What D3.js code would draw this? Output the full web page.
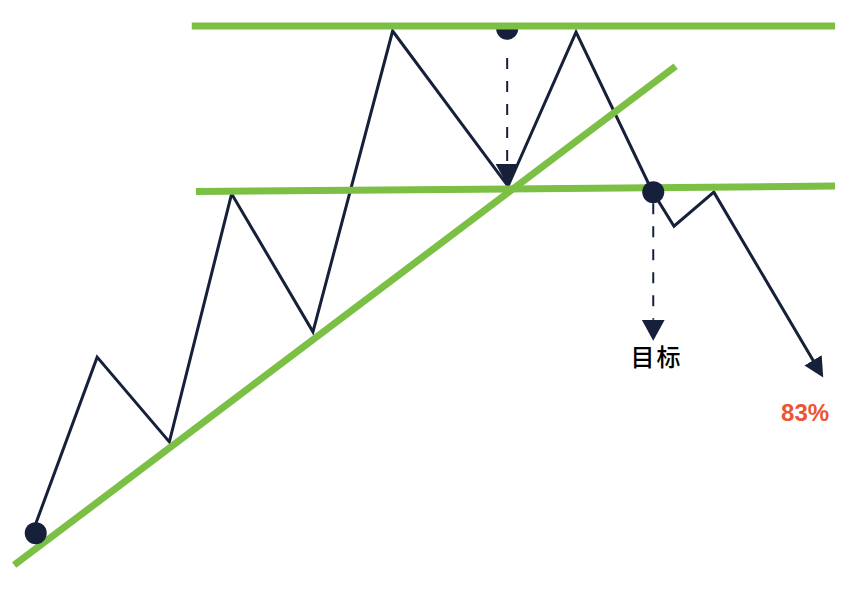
<!DOCTYPE html>
<html>
<head>
<meta charset="utf-8">
<script src="https://cdn.jsdelivr.net/npm/d3@7"></script>
<style>
  html, body { margin: 0; padding: 0; background: #fff; }
</style>
</head>
<body>
<div id="svgcontainer"></div>
<script>
// price path (x = time, y = price)
var priceX = [3.1, 10.5, 19.2, 26.7, 36.5, 46.1, 60.0, 68.2, 77.3, 80.0, 84.8, 97.0];
var priceY = [8.4, 38.7, 23.3, 68.4, 43.3, 98.0, 69.8, 97.8, 69.1, 62.5, 68.7, 37.5];

// green guide lines: [x1, y1, x2, y2]
var resistance = [21.9, 98.9, 99.4, 98.9];
var neckline   = [22.4, 68.8, 99.4, 69.8];
var trendline  = [0.5, 0.9, 80.2, 91.6];

// dashed target arrows: [x, yFrom, yTo]
var targetArrows = [[59.9, 93.1, 73.8], [77.5, 66.7, 45.5]];

// dots
var dotsOver = [[3.1, 6.7], [77.5, 68.7]];
var dotsHalf = [[59.9, 98.4]];

var labels = ["目标", "83%"];
var labelX = [77.9, 95.8];
var labelY = [37.1, 27.1];

var width = 867,
    height = 591;

var navy = "#17203a",
    green = "#7bbf45";

var x = d3.scaleLinear().domain([0, 100]).range([10, 840]);
var y = d3.scaleLinear().domain([0, 100]).range([570, 20]);

var svg = d3.select("#svgcontainer").append("svg")
    .attr("width", width)
    .attr("height", height);

var defs = svg.append("defs");

defs.append("marker")
    .attr("id", "bigHead")
    .attr("markerUnits", "userSpaceOnUse")
    .attr("markerWidth", 22)
    .attr("markerHeight", 22)
    .attr("viewBox", "0 0 22 22")
    .attr("refX", 4)
    .attr("refY", 10)
    .attr("orient", "auto")
  .append("path")
    .attr("d", "M0,0 L20,10 L0,20 Z")
    .attr("fill", navy);

defs.append("marker")
    .attr("id", "dashHead")
    .attr("markerUnits", "userSpaceOnUse")
    .attr("markerWidth", 24)
    .attr("markerHeight", 24)
    .attr("viewBox", "0 0 24 24")
    .attr("refX", 0)
    .attr("refY", 11.5)
    .attr("orient", "auto")
  .append("path")
    .attr("d", "M0,0 L21,11.5 L0,23 Z")
    .attr("fill", navy);

// half dot sits under the resistance line
var halfArc = d3.arc().innerRadius(0).outerRadius(11)
    .startAngle(Math.PI / 2).endAngle(3 * Math.PI / 2);

svg.selectAll(".half")
    .data(dotsHalf)
  .enter().append("path")
    .attr("class", "half")
    .attr("transform", function(d) { return "translate(" + x(d[0]) + "," + y(d[1]) + ")"; })
    .attr("d", halfArc)
    .attr("fill", navy);

// dashed arrows to target
svg.selectAll(".target")
    .data(targetArrows)
  .enter().append("line")
    .attr("class", "target")
    .attr("x1", function(d) { return x(d[0]); })
    .attr("x2", function(d) { return x(d[0]); })
    .attr("y1", function(d) { return y(d[1]); })
    .attr("y2", function(d) { return y(d[2]); })
    .attr("stroke", navy)
    .attr("stroke-width", 2)
    .attr("stroke-dasharray", "11,12")
    .attr("marker-end", "url(#dashHead)");

// price line
var line = d3.line()
    .x(function(d, i) { return x(priceX[i]); })
    .y(function(d) { return y(d); });

svg.append("path")
    .datum(priceY)
    .attr("d", line)
    .attr("fill", "none")
    .attr("stroke", navy)
    .attr("stroke-width", 3)
    .attr("stroke-linejoin", "miter")
    .attr("marker-end", "url(#bigHead)");

// green lines
svg.selectAll(".guide")
    .data([resistance, neckline, trendline])
  .enter().append("line")
    .attr("class", "guide")
    .attr("x1", function(d) { return x(d[0]); })
    .attr("y1", function(d) { return y(d[1]); })
    .attr("x2", function(d) { return x(d[2]); })
    .attr("y2", function(d) { return y(d[3]); })
    .attr("stroke", green)
    .attr("stroke-width", 7);

svg.selectAll(".dot")
    .data(dotsOver)
  .enter().append("circle")
    .attr("class", "dot")
    .attr("cx", function(d) { return x(d[0]); })
    .attr("cy", function(d) { return y(d[1]); })
    .attr("r", 11)
    .attr("fill", navy);

svg.append("text")
    .attr("x", x(labelX[0]))
    .attr("y", y(labelY[0]))
    .attr("text-anchor", "middle")
    .attr("font-family", "'Noto Sans CJK SC', sans-serif")
    .attr("font-size", 24)
    .attr("font-weight", 500)
    .attr("letter-spacing", 2)
    .attr("fill", "#000")
    .text(labels[0]);

svg.append("text")
    .attr("x", x(labelX[1]))
    .attr("y", y(labelY[1]))
    .attr("text-anchor", "middle")
    .attr("font-family", "'Liberation Sans', Arial, sans-serif")
    .attr("font-weight", "bold")
    .attr("font-size", 24)
    .attr("fill", "#ea5532")
    .text(labels[1]);
</script>
</body>
</html>
